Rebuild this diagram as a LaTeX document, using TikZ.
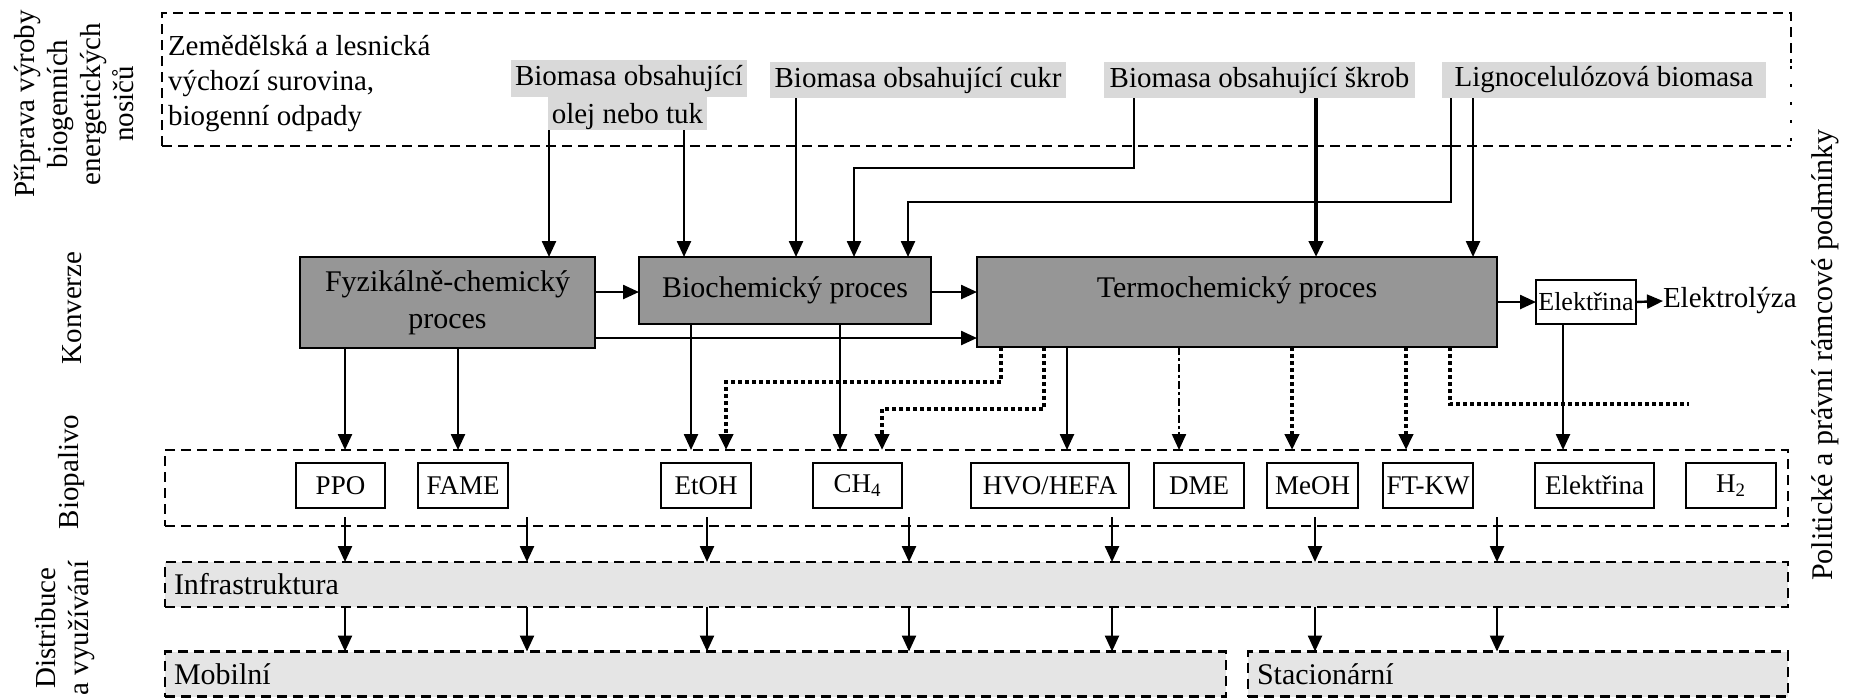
\documentclass[tikz,border=0pt]{standalone}
\usepackage{fontspec}
\setmainfont{Liberation Serif}
\usetikzlibrary{arrows.meta}
\definecolor{procgray}{RGB}{150,150,150}
\definecolor{lblgray}{RGB}{217,217,217}
\definecolor{infragray}{RGB}{229,229,229}
\begin{document}
\begin{tikzpicture}[x=0.5pt,y=-0.5pt,
  every node/.style={inner sep=0pt, outer sep=0pt},
  procbox/.style={draw, fill=procgray, line width=1pt, font=\fontsize{15}{18.5}\selectfont},
  lblbox/.style={fill=lblgray, font=\fontsize{14.5}{16}\selectfont},
  srctext/.style={anchor=base west, font=\fontsize{14.5}{16}\selectfont},
  fuelbox/.style={draw, fill=white, line width=1pt, minimum height=22.5pt, font=\fontsize{13.5}{15}\selectfont},
  framebox/.style={draw, line width=1.4pt, dash pattern=on 5pt off 3pt},
  distbox/.style={framebox, fill=infragray, minimum height=22.5pt, inner xsep=4.5pt, align=left, font=\fontsize{15}{17}\selectfont},
  arr/.style={-{Triangle[length=8pt,width=7pt]}, line width=1.2pt},
  thickarr/.style={arr, line width=2.3pt},
  dotarr/.style={arr, line width=2pt, dash pattern=on 2pt off 1.5pt},
  dotline/.style={line width=2pt, dash pattern=on 2pt off 1.5pt},
  dashdotarr/.style={arr, line width=1.1pt, dash pattern=on 4pt off 1.5pt on 1.5pt off 1.5pt},
  sidelbl/.style={rotate=90, align=center, font=\fontsize{14.5}{16.5}\selectfont},
]
\useasboundingbox (0,0) rectangle (1872,698);

% helper coordinates
\foreach \x in {345,458,527,549,684,691,707,726,796,840,854,882,908,909,1001,1044,1067,1112,1134,1179,1292,1315,1316,1406,1450,1451,1473,1497,1563}
  \coordinate (c\x) at (\x,0);
\foreach \y in {168,202,292,338,382,404,409,517}
  \coordinate (r\y) at (0,\y);
\coordinate (t7end) at (1689,404);

% top dashed frame
\draw[framebox] (162,146) -- (162,13) -- (1791,13) -- (1791,63);
\draw[framebox] (162,146) -- (1451,146);
\draw[line width=0.6pt, dash pattern=on 5pt off 3pt] (1451,146) -- (1791,146);
\draw[line width=1pt, dash pattern=on 1.5pt off 7.5pt] (1791,66) -- (1791,146);

% side labels
\node[sidelbl] (prep) at (74,104) {Příprava výroby\\biogenních\\energetických\\nosičů};
\node[sidelbl] (konv) at (72,308) {Konverze};
\node[sidelbl] (biop) at (72,472) {Biopalivo};
\node[sidelbl] (dist) at (65,628) {Distribuce\\a využívání};
\node[sidelbl, font=\fontsize{15}{17}\selectfont] (pol) at (1825,355) {Politické a právní rámcové podmínky};

% source text
\node[srctext] (z1) at (168,55) {Zemědělská a lesnická};
\node[srctext] (z2) at (168,90) {výchozí surovina,};
\node[srctext] (z3) at (168,125) {biogenní odpady};

% biomass labels
\node[lblbox, minimum width=118pt, minimum height=18.5pt] (la) at (629,78.5) {Biomasa obsahující};
\node[lblbox, minimum width=79.5pt, minimum height=16.5pt, text depth=0pt] (lb) at (627.5,113.5) {olej nebo tuk};
\node[lblbox, minimum width=148pt, minimum height=18pt] (lc) at (918,80) {Biomasa obsahující cukr};
\node[lblbox, minimum width=155.5pt, minimum height=18pt] (ld) at (1259.5,80) {Biomasa obsahující škrob};
\node[lblbox, minimum width=162pt, minimum height=18pt] (le) at (1604,80) {Lignocelulózová biomasa};

% conversion processes
\node[procbox, align=center, minimum width=147.5pt, minimum height=45.5pt] (fyz) at (447.5,302.5) {Fyzikálně-chemický\\proces};
\node[procbox, minimum width=146pt, minimum height=33.5pt] (bio) at (785,290.5) {Biochemický proces};
\node[procbox, minimum width=260pt, minimum height=45pt, text height=10pt, text depth=15pt] (termo) at (1237,302) {Termochemický proces};
\node[draw, fill=white, line width=1pt, minimum width=50pt, minimum height=22pt, font=\fontsize{13}{15}\selectfont] (el1) at (1586,302) {Elektřina};
\node[anchor=west, font=\fontsize{14.5}{16}\selectfont] (elyz) at (1663,301) {Elektrolýza};

% biofuel frame and boxes
\node[framebox, minimum width=811.5pt, minimum height=38pt] (bp) at (976.5,488) {};
\node[fuelbox, minimum width=44.5pt] (ppo) at (340.5,485.5) {PPO};
\node[fuelbox, minimum width=45pt] (fame) at (463,485.5) {FAME};
\node[fuelbox, minimum width=45pt] (etoh) at (706,485.5) {EtOH};
\node[fuelbox, minimum width=44.5pt] (ch4) at (857.5,485.5) {CH\textsubscript{4}};
\node[fuelbox, minimum width=79pt] (hvo) at (1050,485.5) {HVO/HEFA};
\node[fuelbox, minimum width=45pt] (dme) at (1199,485.5) {DME};
\node[fuelbox, minimum width=45.5pt] (meoh) at (1312.5,485.5) {MeOH};
\node[fuelbox, minimum width=45pt] (ftkw) at (1428,485.5) {FT-KW};
\node[fuelbox, minimum width=59.5pt] (el2) at (1594.5,485.5) {Elektřina};
\node[fuelbox, minimum width=45pt] (h2) at (1731,485.5) {H\textsubscript{2}};

% distribution
\node[distbox, text width=802.5pt] (infra) at (976.5,584.5) {Infrastruktura};
\node[distbox, text width=521.5pt] (mob) at (695.5,674) {Mobilní};
\node[distbox, text width=261pt] (stac) at (1518,674) {Stacionární};

% feedstock connectors
\draw[arr] (lb.south -| c549) -- (fyz.north -| c549);
\draw[arr] (lb.south -| c684) -- (bio.north -| c684);
\draw[arr] (lc.south -| c796) -- (bio.north -| c796);
\draw[arr] (ld.south -| c1134) -- (c1134 |- r168) -| (bio.north -| c854);
\draw[thickarr] (ld.south -| c1316) -- (termo.north -| c1316);
\draw[arr] (le.south -| c1451) -- (c1451 |- r202) -| (bio.north -| c908);
\draw[arr] (le.south -| c1473) -- (termo.north -| c1473);

% process connectors
\draw[arr] (fyz.east |- r292) -- (bio.west |- r292);
\draw[arr] (bio.east |- r292) -- (termo.west |- r292);
\draw[arr] (fyz.east |- r338) -- (termo.west |- r338);
\draw[arr] (termo.east |- el1) -- (el1.west);
\draw[arr] (el1.east) -- (elyz.west);

% to biofuels
\draw[arr] (fyz.south -| c345) -- (bp.north -| c345);
\draw[arr] (fyz.south -| c458) -- (bp.north -| c458);
\draw[arr] (bio.south -| c691) -- (bp.north -| c691);
\draw[arr] (bio.south -| c840) -- (bp.north -| c840);
\draw[dotarr] (termo.south -| c1001) -- (c1001 |- r382) -| (bp.north -| c726);
\draw[dotarr] (termo.south -| c1044) -- (c1044 |- r409) -| (bp.north -| c882);
\draw[arr] (termo.south -| c1067) -- (bp.north -| c1067);
\draw[dashdotarr] (termo.south -| c1179) -- (bp.north -| c1179);
\draw[dotarr] (termo.south -| c1292) -- (bp.north -| c1292);
\draw[dotarr] (termo.south -| c1406) -- (bp.north -| c1406);
\draw[dotline] (termo.south -| c1450) -- (c1450 |- r404) -- (t7end);
\draw[arr] (el1.south -| c1563) -- (bp.north -| c1563);

% to distribution
\foreach \x in {345,527,707,909,1112,1315,1497}
  \draw[arr] (c\x |- r517) -- (infra.north -| c\x);
\foreach \x in {345,527,707,909,1112}
  \draw[arr] (infra.south -| c\x) -- (mob.north -| c\x);
\foreach \x in {1315,1497}
  \draw[arr] (infra.south -| c\x) -- (stac.north -| c\x);
\end{tikzpicture}
\end{document}
